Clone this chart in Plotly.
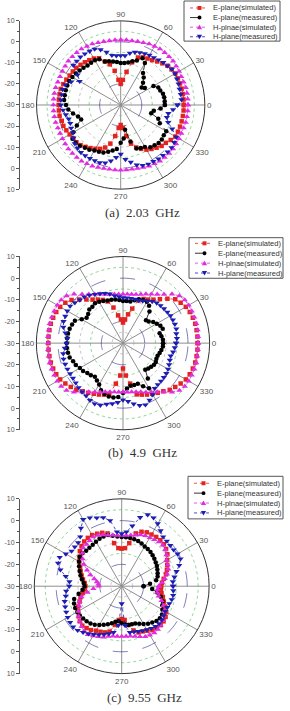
import plotly.graph_objects as go

# ---------------- data ----------------
ANGLES = list(range(0, 360, 5))
ANGLE_TICKS = list(range(0, 360, 30))
RADIAL_RANGE = [-30, 10]
LEFT_TICK_VALUES = [-40, -30, -20, -10, 0, 10, 20, 30, 40]
LEFT_TICK_TEXT = ["10", "0", "-10", "-20", "-30", "-20", "-10", "0", "10"]
SERIES_NAMES = ["E-plane(simulated)", "E-plane(measured)", "H-plnae(simulated)", "H-plane(measured)"]
CAPTIONS = ["(a)  2.03  GHz", "(b)  4.9  GHz", "(c)  9.55  GHz"]
GRID_LEVELS = [-25, -20, -15, -10, -5, 0, 5]

# (a) 2.03 GHz  -- values in dB at 0,5,...,355 deg
A_E_SIM = [0, 0, 0, 0, 0, 0, 0, -0.5, -1, -2, -3, -4, -4.5, -5, -6, -9, -14, -18,
           -20, -18, -13.5, -10, -8, -5.5, -4.5, -4, -3.5, -3, -2.5, -2.2, -2, -1.5, -1, -0.5, -0.5, -0.5,
           -0.5, -0.5, -0.5, -1, -1, -1.5, -2, -2.5, -2.5, -3, -4, -5, -6, -7, -8.5, -11, -15, -19,
           -20.5, -19, -15, -11, -8.5, -7, -5.5, -4.5, -3.5, -2.5, -2, -1, 0, 0, 0, 0, 0, 0]
A_E_MEAS = [-9, -9, -9, -9.2, -10, -10.3, -12, -16, -17, -15, -13, -11.5, -7, -5.5, -7.5, -8.5, -9.5, -10,
            -10, -9.5, -9, -8.5, -8, -6, -5.5, -5.5, -5.5, -5, -4.5, -4, -3.5, -3, -3, -3, -3, -3,
            -4, -5, -7, -9, -10, -7, -4, -2, -2, -2.5, -3.5, -4, -5, -5.5, -6, -7, -8, -9,
            -12, -14, -18, -12, -8, -7.5, -7, -5.5, -5, -4.5, -4.5, -5, -5, -9.5, -11, -15, -14, -11]
A_H_SIM = [2, 2, 2, 2, 1.8, 1.8, 2, 2.2, 2.5, 2.5, 2.5, 2.5, 2.2, 2, 1.5, 1.2, 1, 1,
           1, 1, 1, 1.2, 1.5, 2, 2.2, 2.5, 2.5, 2.5, 2.5, 2.2, 2, 1.8, 1.8, 2, 2, 2,
           2, 2, 2, 2, 1.8, 1.8, 2, 2.2, 2.5, 2.5, 2.5, 2.5, 2.2, 2, 1.5, 1.2, 1, 1,
           1, 1, 1, 1.2, 1.5, 2, 2.2, 2.5, 2.5, 2.5, 2.5, 2.2, 2, 1.8, 1.8, 2, 2, 2]
A_H_MEAS = [-3, -1, -1, -1, -0.7, -0.5, -0.2, -0.3, -1, -1.4, -2, -2.5, -2.7, -3, -3.5, -4, -5, -6.5,
            -6.5, -6.5, -6, -4, -2, -0.7, -0.5, -0.3, -0.2, -0.5, -0.6, -5, -7.5, -4, -2, -1.5, -1.5, -1.5,
            -1.5, -2.5, -3.5, -4.4, -4.5, -4, -3.7, -2.5, -1.5, -1, -0.6, -0.6, -0.7, -0.8, -0.8, -1.5, -3, -5,
            -6.6, -4, -2.4, -0.5, 0.5, 1, 1, 1.2, 1.2, 1.5, 1.5, 1, 0.5, -3, -6, -7.3, -7, -5]

# (b) 4.9 GHz
B_E_SIM = [4.5, 4.5, 4.5, 4.5, 4.3, 4, 3.5, 2.5, 1.5, -1, -3.5, -5.5, -6.8, -7.5, -9, -13.5, -16.5, -19,
           -20.5, -19, -17, -13, -9.5, -8, -6.8, -5.5, -3.7, -1.5, 1, 2.5, 3.5, 4, 4.3, 4.5, 4.5, 4.5,
           4.5, 4.5, 4.5, 4.5, 4.3, 4, 3.5, 2.5, 1.5, 0.5, -1, -2, -3, -3.8, -4.7, -5.5, -11, -15,
           -18.3, -15, -11, -5.5, -4.7, -3.8, -3, -2, -1, 0.5, 1.5, 2.5, 3.5, 4, 4.3, 4.5, 4.5, 4.5]
B_E_MEAS = [-11.5, -11.5, -12, -12.5, -10.5, -11, -12, -13, -14.5, -15, -11, -9, -8, -8, -8.5, -9.5, -10.5, -10.5,
            -10.5, -10, -9.5, -9.3, -9, -8.5, -8, -7.5, -8, -8, -9, -9.5, -8, -5.5, -5, -4.5, -4.2, -4.1,
            -4, -4, -4.2, -4.5, -5.5, -6, -7, -7.5, -8.5, -9, -9.8, -9, -8, -6, -5, -4.5, -4.5, -5,
            -7, -9, -10, -10, -10, -8, -6, -10, -14, -13.5, -13, -12.5, -12.5, -13, -13, -12.5, -12, -11.5]
B_H_SIM = [4.7, 4.8, 5, 5, 5, 5, 5, 4.8, 4, 2, -0.6, -2.5, -3.9, -5, -6, -6.7, -7.1, -7.3,
           -7.4, -7.3, -7.1, -6.7, -6, -5, -3.9, -2.5, -0.6, 2, 4, 4.8, 5, 5, 5, 5, 4.8, 4.7,
           4.6, 4.7, 4.8, 5, 5, 5, 5, 4.8, 4, 2, -0.6, -2.5, -3.9, -5, -6, -6.7, -7.1, -7.3,
           -7.4, -7.3, -7.1, -6.7, -6, -5, -3.9, -2.5, -0.6, 2, 4, 4.8, 5, 5, 5, 5, 4.8, 4.7]
B_H_MEAS = [-5.5, -5, -5, -4.5, -4.5, -4.6, -4.7, -5, -5.3, -5.5, -5.8, -6.5, -7.5, -8.5, -9, -9, -9, -9,
            -9, -8.5, -7.9, -6.5, -5.5, -4.8, -4, -3, -2.2, -1.8, -1, -0.2, -0.3, -0.6, -0.8, -1.5, -3, -4.2,
            -4, -3, -2, -1.6, -1.6, -1.7, -1.8, -1.8, -1.5, -1, -0.6, -0.3, 0.5, 0.9, 0.5, -0.8, -1.6, -2.5,
            -3.8, -3, -1.5, -0.2, 0.3, -1, -2.5, -4.5, -5, -5.2, -5.4, -5.6, -6, -6.5, -7, -7.2, -6.5, -6]

# (c) 9.55 GHz
C_E_SIM = [-12, -11.5, -10.5, -9, -8, -7, -6, -4.5, -3.5, -2.8, -2.5, -2.5, -2.7, -2.8, -3.5, -5, -10, -12.5,
           -12.8, -12.5, -10, -5, -4, -3.5, -3, -3, -3.3, -4, -5, -6.5, -7.5, -9, -10, -11, -12, -13,
           -13.4, -13, -12, -10.5, -9.5, -8, -7, -6, -5, -4.5, -5, -5.5, -6.5, -7, -7.5, -8.5, -12, -14.5,
           -15, -14.5, -12, -9, -7.5, -7.2, -6.5, -5.5, -5, -4.8, -5, -5.5, -6.5, -8, -9.5, -10.5, -11.5, -12]
C_E_MEAS = [-20, -17, -14, -13, -12.5, -12, -11.4, -11, -10.5, -10, -9.5, -9.2, -9, -8.5, -8, -7.8, -7.6, -7.5,
            -7.5, -7.2, -6.5, -5.8, -5.8, -6, -6.5, -6.9, -7, -7, -6.5, -6.5, -7.5, -8.5, -9.5, -10.5, -11.5, -12.5,
            -13, -12, -10, -7.5, -6.8, -6.5, -6.5, -6.6, -7, -7.3, -7.8, -8.5, -9.5, -10.5, -11.5, -12.5, -13.5, -13.9,
            -13, -12.5, -12, -12, -11.9, -11, -10, -9, -8.3, -7.5, -7.2, -7.5, -8.5, -9.5, -10, -11.5, -13.5, -16]
C_H_SIM = [-13, -11.5, -10, -8.5, -7.3, -6.8, -6.4, -5, -4, -3.4, -3.5, -4, -4.3, -4.5, -5, -5.8, -6.3, -6.6,
           -6.7, -6.6, -6.3, -5.8, -5, -4.3, -4, -4.5, -5, -5, -6.5, -8.2, -10, -12.5, -14.7, -17, -18.5, -19.3,
           -19.5, -17, -14, -11, -9.5, -8.5, -7, -6, -5, -4, -3.2, -3, -3.8, -4.5, -5.2, -6.2, -6.8, -7,
           -7, -7, -6.8, -6.3, -5.5, -4.5, -4.2, -4, -4.2, -4.8, -5.5, -6.4, -7.5, -9, -10.6, -12.5, -13.5, -13.5]
C_H_MEAS = [-6.5, -6.5, -5.5, -4, -2, -0.3, -0.5, -1, -1, -0.8, -0.5, 1, 3, 4.5, 4.8, 2.6, -2, -5,
            -6, -5, 0.5, 2.5, 3.3, 4.5, 5.3, 2.5, -0.5, -1.8, -2, -2, -0.5, 1.3, 1, -1, -4, -6,
            -6, -4.5, -4, -3, -2.5, -2, -1.5, -1.2, -1, -1.5, -2.5, -3.5, -4.5, -5.5, -6.5, -7.5, -8.5, -12,
            -22, -12, -8.5, -8.4, -8, -7.5, -7, -6.5, -6, -5.8, -6, -6.5, -7, -7, -6.8, -6.3, -6.1, -6.3]

PANELS = [
    [A_E_SIM, A_E_MEAS, A_H_SIM, A_H_MEAS],
    [B_E_SIM, B_E_MEAS, B_H_SIM, B_H_MEAS],
    [C_E_SIM, C_E_MEAS, C_H_SIM, C_H_MEAS],
]

# ---------------- styles / layout ----------------
W, H = 290, 711
STYLES = [
    dict(color="#e3231f", symbol="square", dash="dot", size=4.5),
    dict(color="#000000", symbol="circle", dash="dash", size=4.5),
    dict(color="#e02de0", symbol="triangle-up", dash="dot", size=5.5),
    dict(color="#1d1db3", symbol="triangle-down", dash="dot", size=5.5),
]
GRID_STYLE = {-25: ("#a0a0a0", "dot"), -20: ("#2a2a8a", "longdash"), -15: ("#49b856", "dot"),
              -10: ("#a0a0a0", "dot"), -5: ("#49b856", "dot"), 0: ("#2a2a8a", "longdash"),
              5: ("#49b856", "dot")}
# panel geometry in px: (cx, cy, R)
GEOM = [(120.7, 102, 85), (123, 342.5, 87.5), (121.7, 588, 88.3)]
# legend boxes in px: (x0, y0, x1, y1, first entry y, entry step)
LEGEND_BOX = [(184, -3, 280, 37.5, 4, 9.7), (189, 236, 283, 277, 241.7, 10), (188, 477, 283, 520, 484, 10)]
CAPTION_POS = [(142, 211), (142.5, 453), (144, 700)]


def X(px):
    return px / W


def Y(py):
    return (H - py) / H


fig = go.Figure()
grid_theta = list(range(0, 361, 3))

for p, series in enumerate(PANELS):
    sub = "polar" if p == 0 else f"polar{p + 1}"
    for lvl in GRID_LEVELS:
        col, dash = GRID_STYLE[lvl]
        fig.add_trace(go.Scatterpolar(r=[lvl] * len(grid_theta), theta=grid_theta, mode="lines",
                                      line=dict(color=col, width=0.6, dash=dash), subplot=sub,
                                      showlegend=False, hoverinfo="skip"))
    for name, vals, st in zip(SERIES_NAMES, series, STYLES):
        fig.add_trace(go.Scatterpolar(
            r=vals + vals[:1], theta=ANGLES + ANGLES[:1], mode="lines+markers", name=name,
            subplot=sub, showlegend=False,
            line=dict(color=st["color"], width=0.8, dash=st["dash"]),
            marker=dict(color=st["color"], symbol=st["symbol"], size=st["size"], line=dict(width=0)),
        ))
    # empty trace so the left dB scale axis of this panel is drawn
    xa = "x" if p == 0 else f"x{p + 1}"
    ya = "y" if p == 0 else f"y{p + 1}"
    fig.add_trace(go.Scatter(x=[None], y=[None], xaxis=xa, yaxis=ya, showlegend=False, hoverinfo="skip"))

layout = dict(width=W, height=H, margin=dict(l=0, r=0, t=0, b=0), paper_bgcolor="white",
              plot_bgcolor="rgba(0,0,0,0)", font=dict(family="Liberation Sans, Arial", size=8, color="#333"),
              showlegend=False)

shapes = []
annotations = []
for p, (cx, cy, R) in enumerate(GEOM):
    key = "polar" if p == 0 else f"polar{p + 1}"
    layout[key] = dict(
        domain=dict(x=[X(cx - R), X(cx + R)], y=[Y(cy + R), Y(cy - R)]),
        bgcolor="white",
        radialaxis=dict(range=RADIAL_RANGE, showticklabels=False, ticks="", showline=False,
                        showgrid=False),
        angularaxis=dict(tickmode="array", tickvals=ANGLE_TICKS, ticktext=[str(a) for a in ANGLE_TICKS],
                         direction="counterclockwise", rotation=0, showgrid=True, gridcolor="#8f8f8f",
                         gridwidth=0.6, showline=True, linecolor="#333", linewidth=1, ticks="",
                         tickfont=dict(size=8, color="#555")),
    )
    # left vertical dB scale
    xk = "xaxis" if p == 0 else f"xaxis{p + 1}"
    yk = "yaxis" if p == 0 else f"yaxis{p + 1}"
    xa = "x" if p == 0 else f"x{p + 1}"
    ya = "y" if p == 0 else f"y{p + 1}"
    layout[xk] = dict(domain=[X(20), X(25)], visible=False, anchor=ya, range=[0, 1])
    layout[yk] = dict(domain=[Y(cy + R), Y(cy - R)], anchor=xa, range=[-40, 40],
                      tickmode="array", tickvals=LEFT_TICK_VALUES, ticktext=LEFT_TICK_TEXT,
                      showline=True, linecolor="#555", linewidth=1, ticks="outside", ticklen=3,
                      tickcolor="#555", showgrid=False, zeroline=False,
                      tickfont=dict(size=7, color="#555"),
                      minor=dict(dtick=5, ticks="outside", ticklen=2, tickcolor="#555"))

    # legend drawn as layout text/shapes
    x0, y0, x1, y1, ey, step = LEGEND_BOX[p]
    shapes.append(dict(type="rect", xref="paper", yref="paper", x0=X(x0), x1=X(x1), y0=Y(y1), y1=Y(y0),
                       line=dict(color="#555", width=1), fillcolor="white", layer="above"))
    for i, (name, st) in enumerate(zip(SERIES_NAMES, STYLES)):
        yy = ey + i * step
        lx0, lx1, mx = x0 + 6, x0 + 24, x0 + 15.5
        shapes.append(dict(type="line", xref="paper", yref="paper", x0=X(lx0), x1=X(lx1), y0=Y(yy), y1=Y(yy),
                           line=dict(color=st["color"], width=0.8, dash=st["dash"]), layer="above"))
        s = 2.0
        if st["symbol"] == "square":
            shapes.append(dict(type="rect", xref="paper", yref="paper", x0=X(mx - s), x1=X(mx + s),
                               y0=Y(yy + s), y1=Y(yy - s), fillcolor=st["color"], line=dict(width=0),
                               layer="above"))
        elif st["symbol"] == "circle":
            shapes.append(dict(type="circle", xref="paper", yref="paper", x0=X(mx - s), x1=X(mx + s),
                               y0=Y(yy + s), y1=Y(yy - s), fillcolor=st["color"], line=dict(width=0),
                               layer="above"))
        else:
            t = 2.6
            if st["symbol"] == "triangle-up":
                pts = [(mx - t, yy + t * 0.8), (mx + t, yy + t * 0.8), (mx, yy - t)]
            else:
                pts = [(mx - t, yy - t * 0.8), (mx + t, yy - t * 0.8), (mx, yy + t)]
            path = "M " + " L ".join(f"{X(a):.5f},{Y(b):.5f}" for a, b in pts) + " Z"
            shapes.append(dict(type="path", xref="paper", yref="paper", path=path, fillcolor=st["color"],
                               line=dict(width=0), layer="above"))
        annotations.append(dict(text=name, x=X(x0 + 26.5), y=Y(yy), xref="paper", yref="paper",
                                xanchor="left", yanchor="middle", showarrow=False,
                                font=dict(family="Liberation Sans, Arial", size=7.5, color="#333")))

for t, (x, y) in zip(CAPTIONS, CAPTION_POS):
    annotations.append(dict(text=t, x=X(x), y=Y(y), xref="paper", yref="paper", showarrow=False,
                            xanchor="center", yanchor="middle",
                            font=dict(family="Liberation Serif, Times New Roman", size=13, color="#333")))

layout["shapes"] = shapes
layout["annotations"] = annotations
fig.update_layout(**layout)
fig.write_html("out.html")
